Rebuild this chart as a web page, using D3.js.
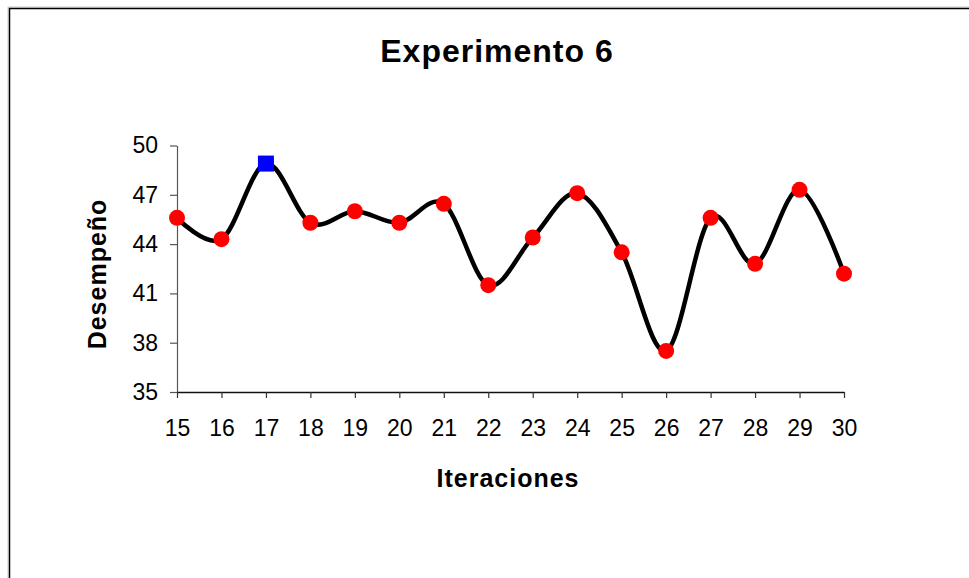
<!DOCTYPE html>
<html>
<head>
<meta charset="utf-8">
<script src="https://cdnjs.cloudflare.com/ajax/libs/d3/7.8.5/d3.min.js"></script>
<style>
  body { margin: 0; background: #fff; }
  svg { display: block; font-family: "Liberation Sans", Arial, sans-serif; }
</style>
</head>
<body>
<div id="chart"></div>
<script>
// datos
const iteraciones = [15, 16, 17, 18, 19, 20, 21, 22, 23, 24, 25, 26, 27, 28, 29, 30];
const desempeno = [45.6, 44.3, 48.9, 45.3, 46.0, 45.3, 46.45, 41.5, 44.4, 47.1, 43.5, 37.5, 45.6, 42.8, 47.3, 42.2];
const mejor = 17; // iteracion marcada con el cuadrado azul
const yTicks = [35, 38, 41, 44, 47, 50];

const W = 969, H = 578;

const svg = d3.select("#chart").append("svg")
    .attr("width", W)
    .attr("height", H);

// marco del area del grafico (sale por la derecha y abajo)
svg.append("rect")
    .attr("x", 8).attr("y", 7)
    .attr("width", 1000).attr("height", 700)
    .attr("fill", "none")
    .attr("stroke", "#ccc")
    .attr("stroke-width", 1);
svg.append("rect")
    .attr("x", 9.5).attr("y", 8.5)
    .attr("width", 1000).attr("height", 700)
    .attr("fill", "#fff")
    .attr("stroke", "#000")
    .attr("stroke-width", 1.5);

const x = d3.scaleLinear()
    .domain([15, 30])
    .range([177, 844]);

const y = d3.scaleLinear()
    .domain([35, 50])
    .range([392, 145.5]);

// eje y
const yAxis = svg.append("g")
    .attr("transform", "translate(177,0)")
    .call(d3.axisLeft(y).tickValues(yTicks).tickSize(7).tickSizeOuter(0).tickPadding(12));
yAxis.select(".domain").attr("stroke", "#555").attr("stroke-width", 1.2);
yAxis.selectAll(".tick line").attr("stroke", "#555").attr("stroke-width", 1.2);
yAxis.selectAll("text")
    .attr("font-size", 23)
    .attr("fill", "#000")
    .attr("font-family", "'Liberation Sans', Arial, sans-serif");

// eje x
const xAxis = svg.append("g")
    .attr("transform", "translate(0,392)")
    .call(d3.axisBottom(x).tickValues(iteraciones).tickFormat(d3.format("d"))
        .tickSize(6).tickSizeOuter(0).tickPadding(22));
xAxis.select(".domain").attr("stroke", "#111").attr("stroke-width", 1.3);
xAxis.selectAll(".tick line").attr("stroke", "#333").attr("stroke-width", 1.2);
xAxis.selectAll("text")
    .attr("font-size", 23)
    .attr("fill", "#000")
    .attr("font-family", "'Liberation Sans', Arial, sans-serif");

// linea suavizada
const line = d3.line()
    .x((d, i) => x(iteraciones[i]))
    .y(d => y(d))
    .curve(d3.curveCardinal.tension(0));

svg.append("path")
    .datum(desempeno)
    .attr("d", line)
    .attr("fill", "none")
    .attr("stroke", "#000")
    .attr("stroke-width", 4.5)
    .attr("stroke-linejoin", "round");

// marcadores
const puntos = iteraciones.map((it, i) => ({ it: it, v: desempeno[i] }));

svg.selectAll("circle.pt")
    .data(puntos.filter(d => d.it !== mejor))
    .enter()
    .append("circle")
    .attr("class", "pt")
    .attr("cx", d => x(d.it))
    .attr("cy", d => y(d.v))
    .attr("r", 8)
    .attr("fill", "#ff0000");

svg.selectAll("rect.best")
    .data(puntos.filter(d => d.it === mejor))
    .enter()
    .append("rect")
    .attr("class", "best")
    .attr("x", d => x(d.it) - 8)
    .attr("y", d => y(d.v) - 8)
    .attr("width", 16)
    .attr("height", 16)
    .attr("fill", "#0000ff");

// titulos
svg.append("text")
    .text("Experimento 6")
    .attr("x", 497)
    .attr("y", 62)
    .attr("text-anchor", "middle")
    .attr("font-size", 32)
    .attr("font-weight", "bold")
    .attr("letter-spacing", 1);

svg.append("text")
    .text("Iteraciones")
    .attr("x", 508)
    .attr("y", 487)
    .attr("text-anchor", "middle")
    .attr("font-size", 25)
    .attr("font-weight", "bold")
    .attr("letter-spacing", 1);

svg.append("text")
    .text("Desempeño")
    .attr("transform", "translate(106,274) rotate(-90)")
    .attr("text-anchor", "middle")
    .attr("font-size", 25)
    .attr("font-weight", "bold")
    .attr("letter-spacing", 1);
</script>
</body>
</html>
